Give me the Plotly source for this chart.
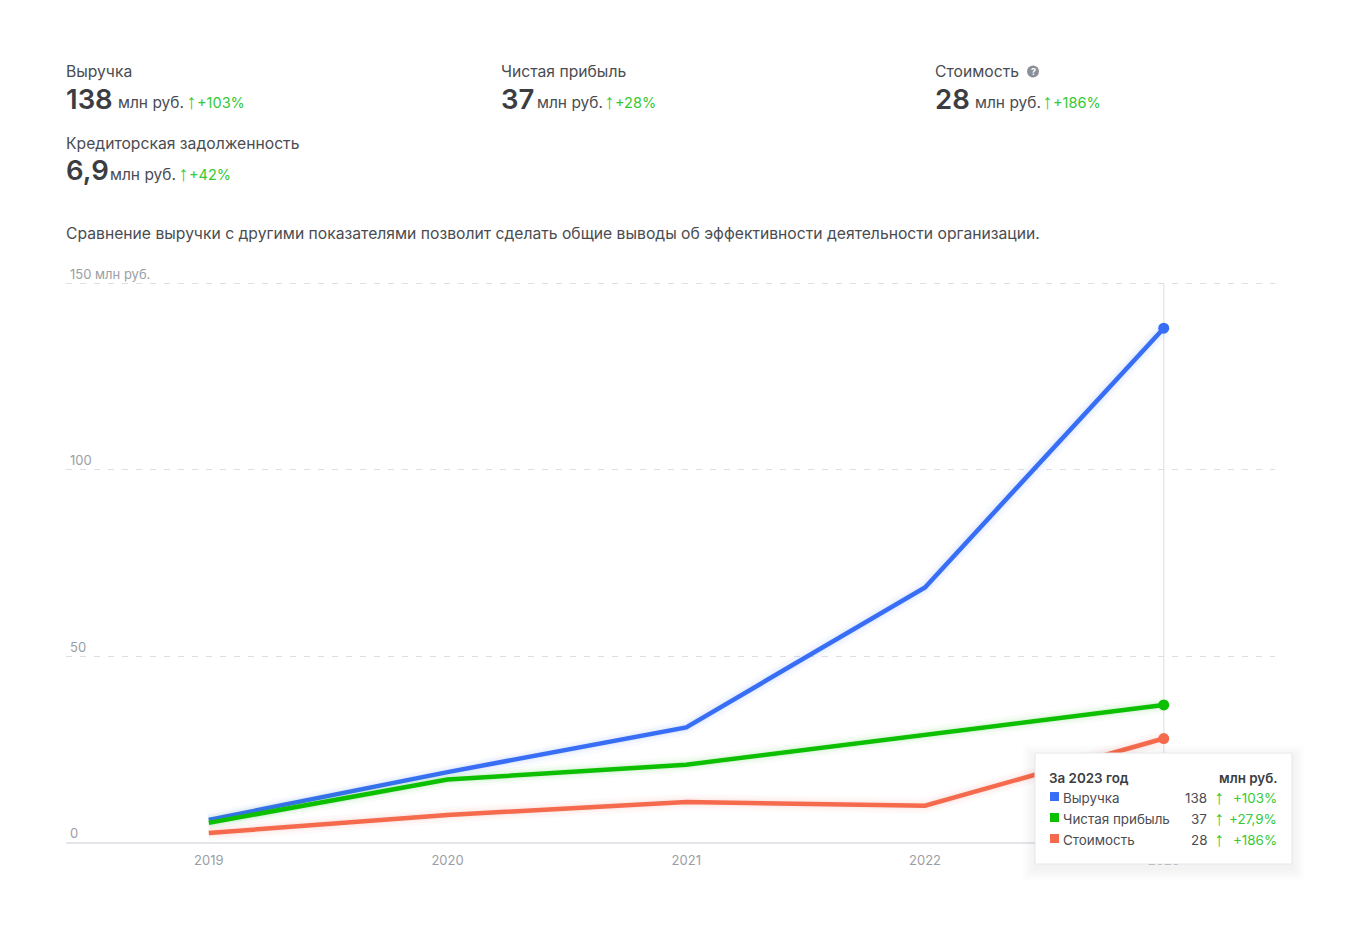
import plotly.graph_objects as go

W, H = 1360, 926
FONT = "Inter"
DARK = "#3b3d42"
TEXT = "#4a4c52"
GREY = "#9a9ea6"
GREEN = "#35c935"

# данные графика
years = [2019, 2020, 2021, 2022, 2023]
revenue = [6.2, 19, 31, 68.5, 138]
profit = [5.4, 17, 21, 29, 37]
cost = [2.7, 7.5, 11, 10, 28]

series_names = ["Выручка", "Чистая прибыль", "Стоимость"]
series_colors = ["#376ef5", "#0cc000", "#f5694c"]
tip_values = ["138", "37", "28"]
tip_changes = ["+103%", "+27,9%", "+186%"]

kpi_names = ["Выручка", "Чистая прибыль", "Стоимость", "Кредиторская задолженность"]
kpi_values = ["138", "37", "28", "6,9"]
kpi_changes = ["+103%", "+28%", "+186%", "+42%"]

y_ticks = [0, 50, 100, 150]
y_labels = ["0", "50", "100", "150 млн руб."]

# границы области графика в пикселях (сверху запас под подпись 150)
L, R, T, B = 66, 1275, 260.6, 843


def px(x):
    return (x - L) / (R - L)


def py(y):
    return (B - y) / (B - T)


def label(x, y, text, size=15.7, color=TEXT, anchor="left", weight=None, family=FONT):
    # поправка на внутренний отступ аннотаций
    shift = {"left": -2, "right": 2, "center": 0}[anchor]
    fig.add_annotation(
        x=px(x), y=py(y), xref="paper", yref="paper", text=text, showarrow=False,
        xanchor=anchor, yanchor="middle", xshift=shift,
        font=dict(family=family, size=size, color=color, weight=weight),
    )


def box(x0, y0, x1, y1, **kw):
    fig.add_shape(type="rect", xref="paper", yref="paper",
                  x0=px(x0), x1=px(x1), y0=py(y0), y1=py(y1), **kw)


fig = go.Figure()

for name, vals, color in zip(series_names, [revenue, profit, cost], series_colors):
    # мягкая тень под линией
    for width, alpha in [(16, 0.025), (11, 0.035), (7, 0.05)]:
        fig.add_trace(go.Scatter(x=years, y=vals, mode="lines", hoverinfo="skip", showlegend=False,
                                 line=dict(color=color, width=width), opacity=alpha))
    fig.add_trace(go.Scatter(x=years, y=vals, mode="lines", name=name, showlegend=False,
                             line=dict(color=color, width=4.5)))
    fig.add_trace(go.Scatter(x=years[-1:], y=vals[-1:], mode="markers", showlegend=False,
                             marker=dict(color=color, size=11)))

# вертикальная линия на последнем годе
fig.add_shape(type="line", xref="x", yref="y", x0=years[-1], x1=years[-1], y0=0, y1=150,
              line=dict(color="#e8e9eb", width=1.5), layer="below")

fig.update_layout(
    width=W, height=H, autosize=False, showlegend=False,
    paper_bgcolor="white", plot_bgcolor="white",
    margin=dict(l=L, r=W - R, t=T, b=H - B, pad=0),
    font=dict(family=FONT, color=GREY, size=13),
)
fig.update_xaxes(
    range=[2018.402, 2023.466], tickvals=years, ticktext=[str(y) for y in years],
    showgrid=False, zeroline=False, showline=False, ticks="", ticklabelstandoff=8,
    tickfont=dict(family=FONT, size=13, color=GREY),
)
fig.update_yaxes(
    range=[0, 156], tickvals=y_ticks, ticktext=y_labels, ticklabelposition="inside top",
    ticklabelstandoff=1,
    showgrid=True, gridcolor="#dcdee1", griddash="6px,8px", gridwidth=1,
    zeroline=True, zerolinecolor="#e4e5e8", zerolinewidth=1.5, showline=False, ticks="",
    tickfont=dict(family=FONT, size=13, color=GREY),
)

# блоки показателей над графиком
kpi_x = [66, 501, 935, 66]
kpi_title_y = [71, 71, 71, 143]
kpi_unit_x = [118, 537, 975, 110]
kpi_change_x = [186, 604, 1042, 178]
for i in range(4):
    label(kpi_x[i], kpi_title_y[i], kpi_names[i])
    label(kpi_x[i], kpi_title_y[i] + 27, kpi_values[i], 27.5, DARK, weight=600)
    label(kpi_unit_x[i], kpi_title_y[i] + 31, "млн руб.", 15.5)
    label(kpi_change_x[i], kpi_title_y[i] + 30, "<b>↑</b>", 21, GREEN, family="Liberation Sans")
    label(kpi_change_x[i] + 11, kpi_title_y[i] + 31, kpi_changes[i], 14.5, GREEN)

# значок подсказки
fig.add_shape(type="circle", xref="paper", yref="paper", x0=px(1027), x1=px(1039), y0=py(77), y1=py(65),
              fillcolor="#8b8f98", line_width=0)
label(1033, 71, "<b>?</b>", 9, "white", "center")

label(66, 233, "Сравнение выручки с другими показателями позволит сделать общие выводы "
               "об эффективности деятельности организации.")

# подсказка за 2023 год
for grow in range(12, 0, -2):
    box(1035 - grow, 753 - grow + 4, 1292 + grow, 864 + grow + 4,
        fillcolor="rgba(30,40,60,0.007)", line_width=0, layer="above")
box(1035, 753, 1292, 864, fillcolor="white", line=dict(color="#e6e7ea", width=1), layer="above")

label(1049, 778, "За 2023 год", 13.4, DARK, weight=600)
label(1278, 778, "млн руб.", 13.4, DARK, "right", weight=600)
row_y = [798, 819, 840]
for i in range(3):
    box(1050, row_y[i] - 6, 1059, row_y[i] + 3, fillcolor=series_colors[i], line_width=0, layer="above")
    label(1063, row_y[i], series_names[i], 13.4)
    label(1207, row_y[i], tip_values[i], 13.4, TEXT, "right")
    label(1219, row_y[i] - 1, "<b>↑</b>", 20, GREEN, "center", family="Liberation Sans")
    label(1277, row_y[i], tip_changes[i], 13.4, GREEN, "right")

fig.write_html("out.html", config={"displayModeBar": False},
               post_script="document.body.style.margin='0';")
